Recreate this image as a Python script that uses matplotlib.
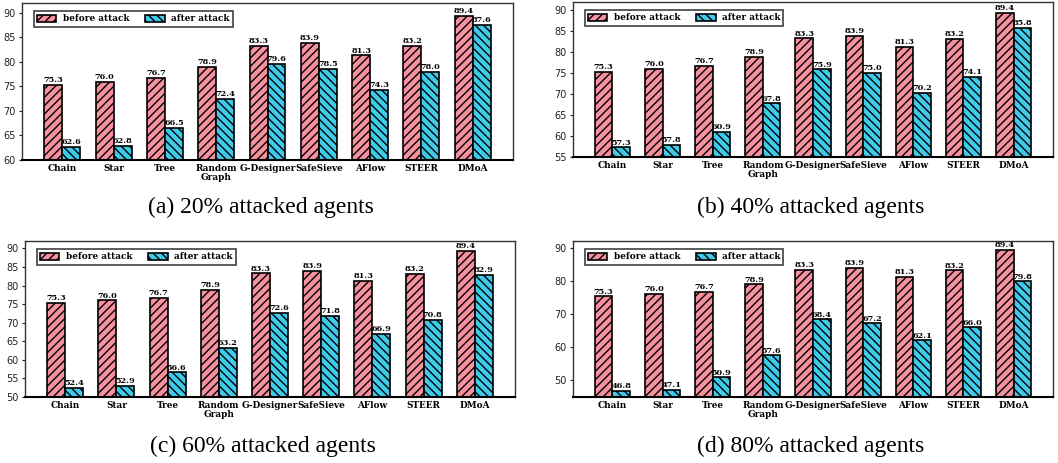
import numpy as np
import matplotlib.pyplot as plt

# methods on the x axis
methods = ["Chain", "Star", "Tree", "Random\nGraph", "G-Designer",
           "SafeSieve", "AFlow", "STEER", "DMoA"]

# accuracy before the attack (same for every setting)
before = [75.3, 76.0, 76.7, 78.9, 83.3, 83.9, 81.3, 83.2, 89.4]

# accuracy after the attack, per share of attacked agents
after_20 = [62.6, 62.8, 66.5, 72.4, 79.6, 78.5, 74.3, 78.0, 87.6]
after_40 = [57.3, 57.8, 60.9, 67.8, 75.9, 75.0, 70.2, 74.1, 85.8]
after_60 = [52.4, 52.9, 56.6, 63.2, 72.6, 71.8, 66.9, 70.8, 82.9]
after_80 = [46.8, 47.1, 50.9, 57.6, 68.4, 67.2, 62.1, 66.0, 79.8]

captions = ["(a) 20% attacked agents", "(b) 40% attacked agents",
            "(c) 60% attacked agents", "(d) 80% attacked agents"]

PINK = "#F5919E"
CYAN = "#3ECBEA"

W, H = 1058, 463
fig = plt.figure(figsize=(W / 100, H / 100), dpi=100)


def px_rect(x0, x1, y0, y1):
    # axes box given in pixels from the top-left corner
    return [x0 / W, 1 - y1 / H, (x1 - x0) / W, (y1 - y0) / H]


panels = [
    (px_rect(22, 513, 3, 160), after_20, 60, np.arange(60, 91, 5)),
    (px_rect(573, 1053, 2, 157), after_40, 55, np.arange(55, 91, 5)),
    (px_rect(25, 515, 241, 397), after_60, 50, np.arange(50, 91, 5)),
    (px_rect(573, 1053, 241, 397), after_80, 45, np.arange(50, 91, 10)),
]
caption_pos = [(261 / W, 1 - 207 / H), (811 / W, 1 - 207 / H),
               (263 / W, 1 - 446 / H), (811 / W, 1 - 446 / H)]

x = np.arange(len(methods))
w = 0.35
serif_bold = {"family": "DejaVu Serif", "weight": "bold"}

for (rect, after, ymin, yticks), cap, (cx, cy) in zip(panels, captions, caption_pos):
    ax = fig.add_axes(rect)
    b1 = ax.bar(x - w / 2, before, w, color=PINK, edgecolor="black",
                hatch="////", linewidth=1.2, label="before attack")
    b2 = ax.bar(x + w / 2, after, w, color=CYAN, edgecolor="black",
                hatch="\\\\\\\\", linewidth=1.2, label="after attack")
    for bars, vals in ((b1, before), (b2, after)):
        for bar, v in zip(bars, vals):
            ax.text(bar.get_x() + bar.get_width() / 2, v + 0.2, f"{v:.1f}",
                    ha="center", va="bottom", fontsize=5.9, **serif_bold)
    ax.set_ylim(ymin, 92)
    ax.set_yticks(yticks)
    ax.set_xticks(x)
    ax.set_xticklabels(methods, fontsize=6.4, linespacing=0.95, **serif_bold)
    ax.tick_params(axis="y", labelsize=7, length=2.5, pad=2, colors="#222222")
    ax.tick_params(axis="x", length=0, pad=3)
    for s in ax.spines.values():
        s.set_linewidth(1.0)
        s.set_color("#333333")
    ax.spines["bottom"].set_linewidth(1.5)
    ax.spines["bottom"].set_color("black")
    leg = ax.legend(loc="upper left", ncol=2, frameon=True, fancybox=False,
                    prop={**serif_bold, "size": 6.4},
                    handlelength=2.2, handleheight=0.9, handletextpad=0.7,
                    columnspacing=1.8, borderpad=0.35,
                    bbox_to_anchor=(0.015, 0.975))
    leg.get_frame().set_edgecolor("#222222")
    leg.get_frame().set_linewidth(1.3)
    fig.text(cx, cy, cap, ha="center", va="center", fontsize=17,
             family="Liberation Serif")

fig.savefig("out.png", dpi=100)
